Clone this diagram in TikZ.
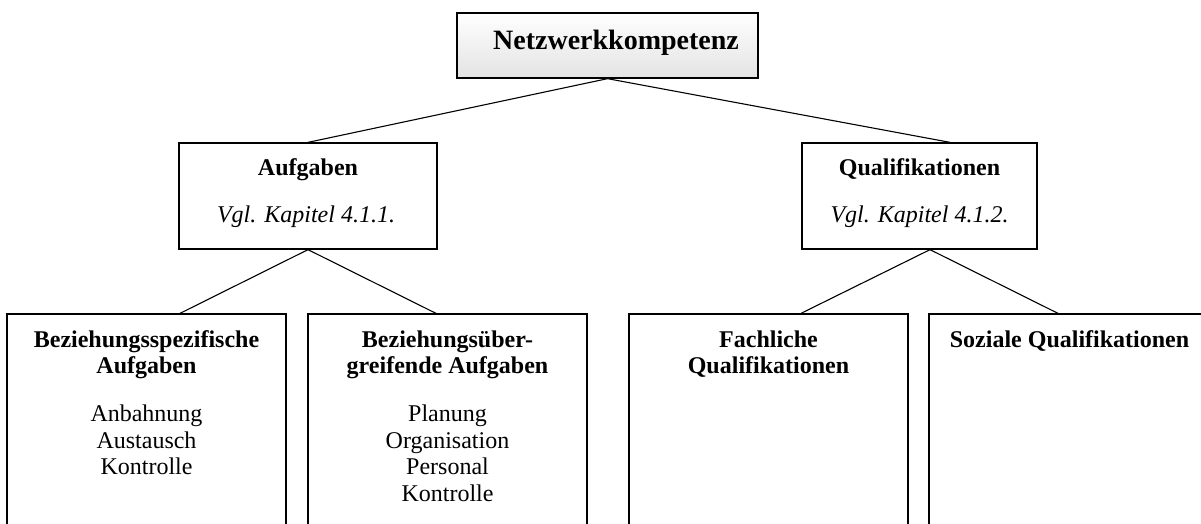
\documentclass[tikz,border=0pt]{standalone}
\usepackage{fontspec}
\setmainfont{Liberation Serif}
\begin{document}
\begin{tikzpicture}[x=1pt,y=-1pt,
  box/.style={draw=black, rectangle, inner sep=0pt, line width=1.3pt},
  lowbox/.style={box, minimum width=279pt, minimum height=240pt},
  conn/.style={draw=black, line width=1.1pt},
  txt/.style={inner sep=0pt, anchor=base, font=\fontsize{24}{26.5}\selectfont},
]
\useasboundingbox (0,0) rectangle (1201,523);
\clip (0,0) rectangle (1201,523);

% top box
\node[box, minimum width=301pt, minimum height=65pt, top color=white, bottom color=black!11] (top) at (607.5,45.5) {};
\node[txt, font=\bfseries\fontsize{28}{32}\selectfont] (toptxt) at (616,49) {Netzwerkkompetenz};

% middle boxes
\node[box, minimum width=258pt, minimum height=106pt] (aufg) at (308,196) {};
\node[txt, font=\bfseries\fontsize{24}{27}\selectfont] (aufgT) at (308,175) {Aufgaben};
\node[txt, font=\itshape\fontsize{24}{27}\selectfont] (aufgV) at (306,222) {Vgl. Kapitel 4.1.1.};

\node[box, minimum width=235pt, minimum height=106pt] (qual) at (919.5,196) {};
\node[txt, font=\bfseries\fontsize{24}{27}\selectfont] (qualT) at (919.5,175) {Qualifikationen};
\node[txt, font=\itshape\fontsize{24}{27}\selectfont] (qualV) at (919.5,222) {Vgl. Kapitel 4.1.2.};

% lower boxes
\node[lowbox] (b1) at (146.5,434) {};
\node[lowbox] (b2) at (447.5,434) {};
\node[lowbox] (b3) at (768.5,434) {};
\node[lowbox] (b4) at (1068.5,434) {};

\node[txt] (b1t) at (146.5,347) {\begin{tabular}[t]{@{}c@{}}\textbf{Beziehungsspezifische}\\ \textbf{Aufgaben}\\ \\[-5pt] Anbahnung\\ Austausch\\ Kontrolle\end{tabular}};
\node[txt] (b2t) at (447.5,347) {\begin{tabular}[t]{@{}c@{}}\textbf{Beziehungsüber-}\\ \textbf{greifende Aufgaben}\\ \\[-5pt] Planung\\ Organisation\\ Personal\\ Kontrolle\end{tabular}};
\node[txt] (b3t) at (768.5,347) {\begin{tabular}[t]{@{}c@{}}\textbf{Fachliche}\\ \textbf{Qualifikationen}\end{tabular}};
\node[txt] (b4t) at (1069.5,347) {\textbf{Soziale Qualifikationen}};

% connectors
\draw[conn] (top.south) -- (aufg.north);
\draw[conn] (top.south) -- ([xshift=30.5pt]qual.north);
\draw[conn] (aufg.south) -- ([xshift=33.5pt]b1.north);
\draw[conn] (aufg.south) -- ([xshift=-11.5pt]b2.north);
\draw[conn] ([xshift=10.5pt]qual.south) -- ([xshift=32.5pt]b3.north);
\draw[conn] ([xshift=10.5pt]qual.south) -- ([xshift=-10.5pt]b4.north);
\end{tikzpicture}
\end{document}
